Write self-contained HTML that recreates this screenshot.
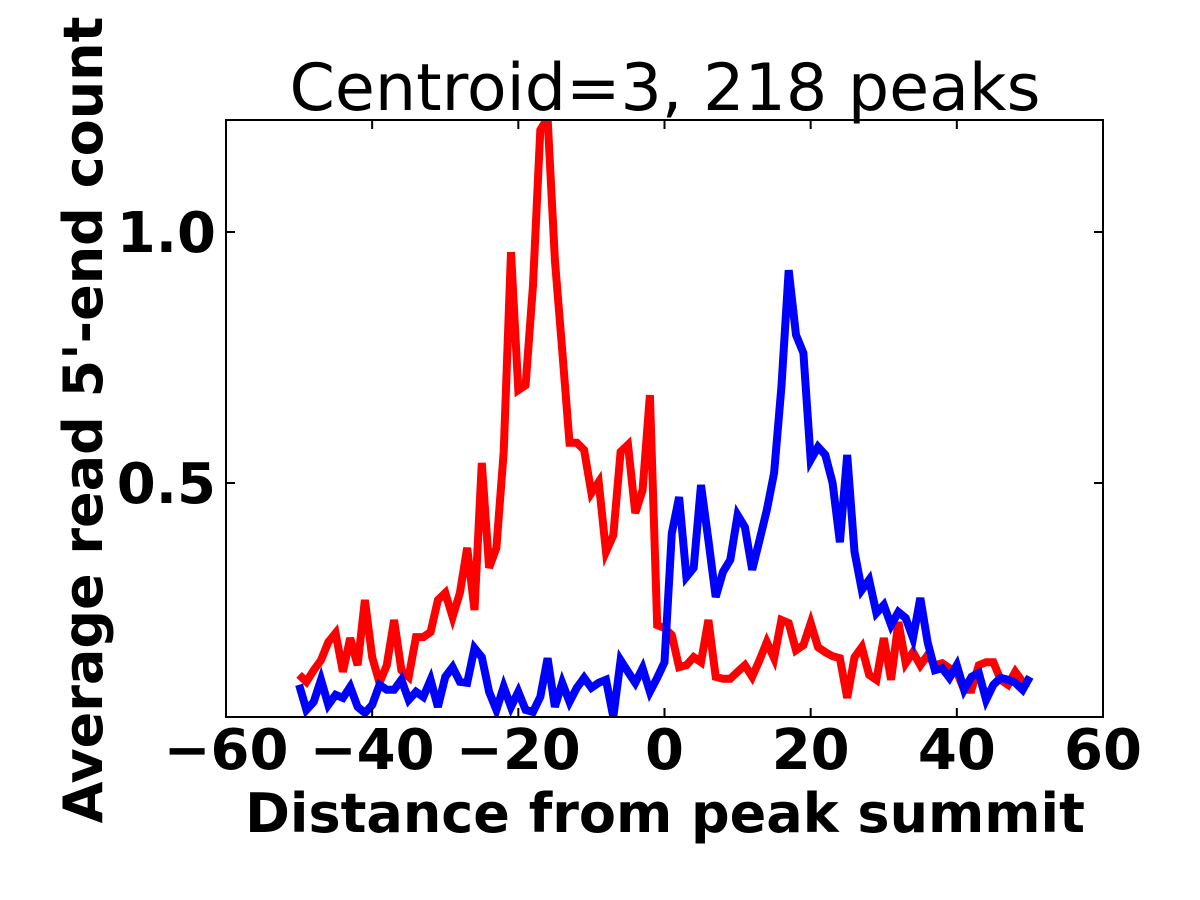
<!DOCTYPE html>
<html><head><meta charset="utf-8"><style>
body{margin:0;background:#fff;}
svg{display:block;font-family:"DejaVu Sans","Liberation Sans",sans-serif;}
</style></head><body>
<svg id="chart" width="1200" height="900">
<rect width="1200" height="900" fill="#fff"/>
<text x="665" y="110" font-size="65" text-anchor="middle">Centroid=3, 218 peaks</text>
<g id="plot"></g>
<text x="665" y="832" font-size="54" font-weight="bold" text-anchor="middle">Distance from peak summit</text>
<text transform="translate(102,420) rotate(-90)" font-size="54" font-weight="bold" text-anchor="middle">Average read 5'-end count</text>
</svg>
<script>
const xTicks=[-60,-40,-20,0,20,40,60];
const yTicks=[0.5,1.0];
const yTickLabels=["0.5","1.0"];
const redValues=[.118,.104,.127,.147,.183,.201,.124,.191,.137,.267,.153,.102,.137,.227,.127,.114,.193,.193,.203,.267,.281,.233,.281,.371,.247,.540,.331,.371,.562,.960,.685,.695,.894,1.203,1.227,.944,.765,.580,.580,.566,.480,.502,.363,.396,.562,.576,.440,.486,.675,.217,.211,.197,.133,.137,.153,.143,.227,.114,.110,.110,.124,.137,.114,.147,.183,.151,.227,.221,.167,.177,.221,.173,.163,.155,.151,.072,.153,.173,.118,.108,.191,.108,.223,.141,.163,.137,.157,.137,.141,.131,.124,.088,.088,.137,.143,.143,.108,.098,.124,.104,.102];
const blueValues=[.098,.048,.064,.108,.058,.078,.072,.094,.054,.042,.058,.098,.088,.088,.108,.068,.084,.074,.108,.054,.114,.133,.104,.102,.171,.153,.084,.048,.094,.054,.084,.048,.044,.074,.151,.054,.102,.064,.092,.112,.092,.102,.108,.034,.147,.124,.102,.131,.084,.112,.143,.400,.472,.313,.331,.496,.386,.273,.323,.347,.436,.412,.327,.386,.446,.520,.691,.924,.795,.759,.546,.572,.556,.500,.382,.556,.363,.287,.307,.241,.257,.217,.243,.231,.191,.271,.183,.127,.131,.112,.137,.088,.114,.122,.068,.098,.112,.108,.102,.088,.114];
const xStart=-50;
const L=226,R=1103,T=120,B=717;
const sx=v=>L+(v+60)*(R-L)/120;
const sy=v=>734-v*502;
const NS="http://www.w3.org/2000/svg";
const g=document.getElementById('plot');
function mk(t,a){const e=document.createElementNS(NS,t);for(const k in a)e.setAttribute(k,a[k]);return e;}
const defs=mk('defs',{});const cp=mk('clipPath',{id:'c'});cp.appendChild(mk('rect',{x:L,y:T,width:R-L,height:B-T}));defs.appendChild(cp);g.appendChild(defs);
function series(vals,color,name){
  const pts=vals.map((v,i)=>sx(xStart+i).toFixed(1)+','+sy(v).toFixed(1)).join(' ');
  const p=mk('polyline',{points:pts,fill:'none',stroke:color,'stroke-width':8,'stroke-linejoin':'miter','stroke-miterlimit':4,'clip-path':'url(#c)'});
  
  
  g.appendChild(p);
}
series(redValues,'#ff0000','red-series-line');
series(blueValues,'#0000ff','blue-series-line');
const fr=mk('rect',{x:L,y:T,width:R-L,height:B-T,fill:'none',stroke:'#000','stroke-width':2});


g.appendChild(fr);
xTicks.forEach(t=>{
  const x=sx(t);
  g.appendChild(mk('line',{x1:x,x2:x,y1:B,y2:B-9,stroke:'#000','stroke-width':2}));
  g.appendChild(mk('line',{x1:x,x2:x,y1:T,y2:T+9,stroke:'#000','stroke-width':2}));
  const tx=mk('text',{x:x,y:769,'font-size':56,'font-weight':'bold','text-anchor':'middle'});
  tx.textContent=(t<0?'\u2212':'')+Math.abs(t);
  
  
  g.appendChild(tx);
});
yTicks.forEach((t,i)=>{
  const y=sy(t);
  g.appendChild(mk('line',{x1:L,x2:L+9,y1:y,y2:y,stroke:'#000','stroke-width':2}));
  g.appendChild(mk('line',{x1:R,x2:R-9,y1:y,y2:y,stroke:'#000','stroke-width':2}));
  const tx=mk('text',{x:216,y:y+20,'font-size':56,'font-weight':'bold','text-anchor':'end'});
  tx.textContent=yTickLabels[i];
  
  
  g.appendChild(tx);
});
</script>
</body></html>
